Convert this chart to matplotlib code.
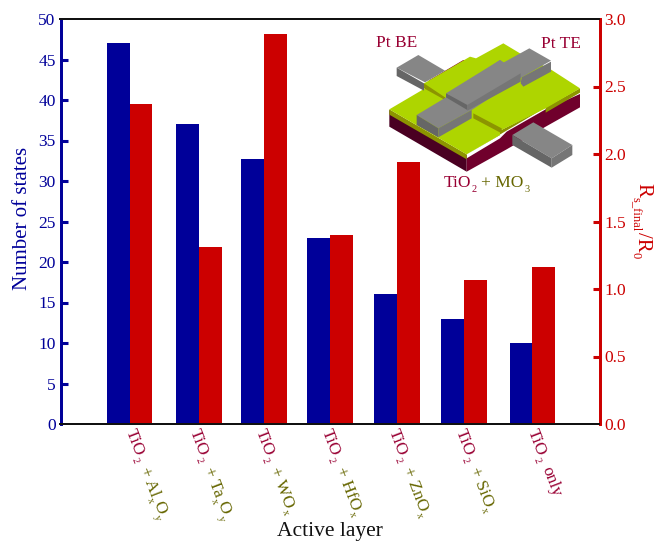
import re
import matplotlib
matplotlib.use('Agg')
import matplotlib.pyplot as plt
from matplotlib.patches import Polygon
import numpy as np

plt.rcParams['font.family'] = ['Liberation Serif', 'DejaVu Serif']

# data
group_pos = [0, 1.03, 2, 2.985, 3.985, 4.985, 6]
num_states = [47, 37, 32.7, 23, 16, 13, 10]
rs_ratio = [2.37, 1.31, 2.89, 1.40, 1.94, 1.07, 1.16]
label_base = ['TiO_2'] * 7
label_rest = ['+ Al_xO_y', '+ Ta_xO_y', '+ WO_x', '+ HfO_x', '+ ZnO_x', '+ SiO_x', 'only']
label_rest_colors = ['#666600'] * 6 + ['#990033']

BLUE = '#000099'
RED = '#CC0000'
MAROON = '#990033'
OLIVE = '#666600'

W, H = 654, 541
fig = plt.figure(figsize=(W / 100, H / 100), dpi=100)
ax = fig.add_axes([60.5 / W, 1 - 424 / H, 539 / W, 405 / H])
ax2 = ax.twinx()

bar_w = 0.336
pos = np.array(group_pos)
ax.bar(pos - bar_w / 2, num_states, bar_w, color=BLUE, linewidth=0)
ax2.bar(pos + bar_w / 2, rs_ratio, bar_w, color=RED, linewidth=0)

ax.set_xlim(-1.037, 7.007)
ax.set_ylim(0, 50)
ax2.set_ylim(0, 3.0)
ax.set_xticks([])
ax.set_yticks(np.arange(0, 51, 5))
ax2.set_yticks(np.arange(0, 3.01, 0.5))
ax2.set_yticklabels(['%.1f' % v for v in np.arange(0, 3.01, 0.5)])

ax.tick_params(axis='y', direction='in', length=4.7, width=2.2, colors=BLUE,
               labelsize=12.5, pad=3.5)
ax2.tick_params(axis='y', direction='in', length=4.7, width=2.2, colors=RED,
                labelsize=12.5, pad=3.5)

# no tick marks at the two ends of either scale
for a in (ax, ax2):
    ticks = a.yaxis.get_major_ticks()
    for t in (ticks[0], ticks[-1]):
        t.tick1line.set_visible(False)
        t.tick2line.set_visible(False)

for a in (ax, ax2):
    a.spines['top'].set_linewidth(1.4)
    a.spines['top'].set_color('#111111')
    a.spines['bottom'].set_linewidth(1.4)
    a.spines['bottom'].set_color('#111111')
    a.spines['left'].set_linewidth(2)
    a.spines['left'].set_color(BLUE)
    a.spines['right'].set_linewidth(2)
    a.spines['right'].set_color(RED)

# overlay in pixel coordinates for the sketch and the composed labels
ov = fig.add_axes([0, 0, 1, 1], facecolor='none', zorder=5)
ov.set_xlim(0, W)
ov.set_ylim(H, 0)
ov.axis('off')

renderer = fig.canvas.get_renderer()


def text_width(s, size):
    t = fig.text(0, 0, s, fontsize=size)
    w = t.get_window_extent(renderer).width
    t.remove()
    return w


def draw_run(x, y, s, color, size, angle=0, sub_scale=0.6):
    """Write s at pixel (x, y) along angle; _c or _{..} makes a small lowered subscript."""
    rad = np.radians(angle)
    along = np.array([np.cos(rad), -np.sin(rad)])
    down = np.array([np.sin(rad), np.cos(rad)])
    p = np.array([x, y], dtype=float)
    em = size * 100 / 72
    for part in re.findall(r'_\{[^}]*\}|_.|[^_]+', s):
        is_sub = part.startswith('_')
        txt = part[1:].strip('{}') if is_sub else part
        fs = size * sub_scale if is_sub else size
        shift = down * (0.27 * em if is_sub else 0)
        ov.text(p[0] + shift[0], p[1] + shift[1], txt, color=color, fontsize=fs,
                rotation=angle, rotation_mode='anchor', ha='left', va='baseline',
                clip_on=False)
        p = p + along * (text_width(txt, fs) + 0.02 * em)
    return p


ov.text(23, 218, 'Number of states', color=BLUE, fontsize=15,
        rotation=90, ha='center', va='center')
draw_run(638.5, 183, 'R_{s_final}/R_0', RED, 15, angle=-90)
ov.text(330, 536, 'Active layer', color='#111111', fontsize=15.5, ha='center', va='baseline')

# rotated two-colour category labels
label_angle = -69
base_offsets = [-4, -9, -8, -8, -8, -8, -4]
for x, off, base, rest, col in zip(group_pos, base_offsets, label_base, label_rest, label_rest_colors):
    px = ax.transData.transform((x, 0))[0]
    p = draw_run(px + off, 431, base, MAROON, 12.5, angle=label_angle)
    rad = np.radians(label_angle)
    p = p + np.array([np.cos(rad), -np.sin(rad)]) * 7
    draw_run(p[0], p[1], rest, col, 12.5, angle=label_angle)


def sketch(points, color):
    pts = [(370 + a / 3, 20 + b / 3) for a, b in points]
    ov.add_patch(Polygon(pts, closed=True, facecolor=color, edgecolor='none'))


sketch([(58, 270), (290, 405), (290, 455), (58, 320)], '#4A0022')
sketch([(290, 415), (390, 355), (410, 335), (527, 268), (630, 222), (630, 262), (527, 320),
        (410, 388), (290, 455)], '#70002C')
sketch([(175, 182), (280, 120), (300, 125), (200, 190)], '#8A0035')
sketch([(58, 268), (290, 403), (290, 418), (58, 284)], '#8C9400')
sketch([(290, 403), (390, 345), (390, 332), (527, 262), (527, 278), (630, 218), (630, 205),
        (527, 262)], '#8C9400')
sketch([(58, 268), (165, 205), (162, 190), (300, 110), (318, 115), (400, 70), (450, 100),
        (545, 150), (630, 205), (527, 265), (390, 332), (390, 345), (290, 403)], '#AED500')
sketch([(162, 190), (225, 232), (225, 240), (162, 205)], '#8C9400')
sketch([(310, 280), (395, 325), (395, 340), (310, 295)], '#8C9400')

# bottom electrode, back left
sketch([(80, 143), (145, 105), (225, 152), (165, 187)], '#868686')
sketch([(80, 143), (162, 190), (162, 212), (80, 168)], '#666666')
# bottom electrode, front right
sketch([(427, 345), (490, 307), (607, 375), (545, 415)], '#868686')
sketch([(427, 345), (545, 415), (545, 443), (427, 375)], '#666666')
sketch([(545, 415), (607, 375), (607, 405), (545, 443)], '#767676')
# top electrode
sketch([(140, 285), (228, 232), (390, 120), (400, 128), (478, 85), (543, 122), (455, 172),
        (305, 270), (205, 325)], '#868686')
sketch([(140, 285), (205, 325), (205, 352), (140, 315)], '#666666')
sketch([(205, 325), (305, 270), (305, 295), (205, 352)], '#767676')
sketch([(455, 172), (543, 125), (543, 155), (460, 200), (452, 190)], '#767676')
sketch([(228, 220), (390, 120), (452, 160), (292, 255)], '#868686')
sketch([(228, 220), (292, 255), (292, 270), (228, 232)], '#666666')
sketch([(292, 255), (452, 160), (452, 185), (292, 272)], '#767676')

ov.text(376, 47, 'Pt BE', color=MAROON, fontsize=12.5, va='baseline')
ov.text(541, 48, 'Pt TE', color=MAROON, fontsize=12.5, va='baseline')
p_t = draw_run(444, 187, 'TiO_2', MAROON, 12.5)
draw_run(p_t[0] + 4, 187, '+ MO_3', OLIVE, 12.5)

fig.savefig('out.png', dpi=100)
